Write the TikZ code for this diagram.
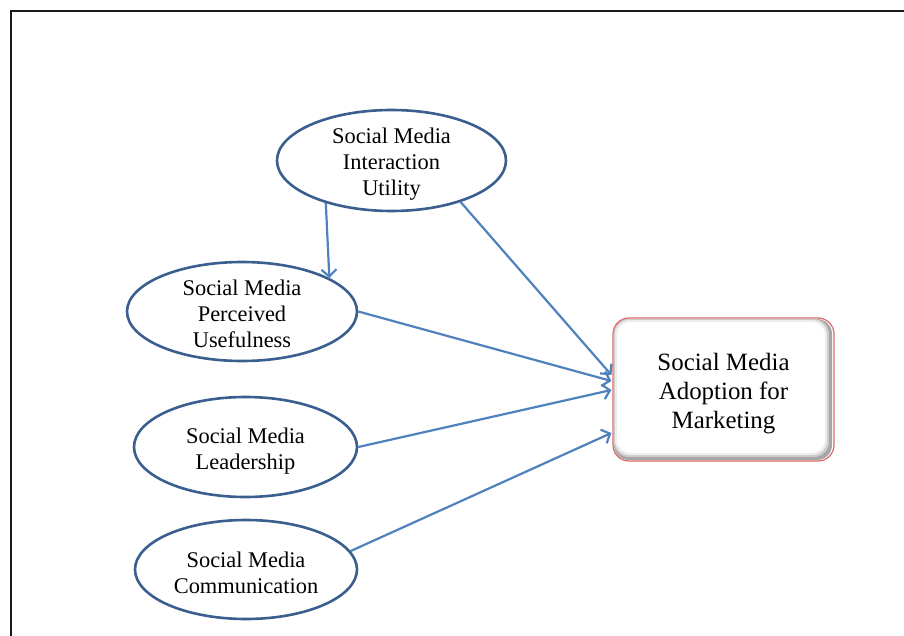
\documentclass[tikz,border=0pt]{standalone}
\usepackage{fontspec}
\setmainfont{Liberation Serif}
\usetikzlibrary{shapes.geometric,arrows.meta,calc}
\definecolor{ovalline}{HTML}{3A5F8F}
\definecolor{arrowblue}{HTML}{4F81BD}
\definecolor{boxred}{HTML}{D9696A}
% taller first line, so the text block sits a little low in its shape
\newcommand\toppad[1]{\rule{0pt}{#1}}
\begin{document}
\begin{tikzpicture}[x=1pt,y=-1pt,
  construct/.style={ellipse, draw=ovalline, line width=2.6pt, fill=white,
    inner sep=-20pt, align=center, font=\fontsize{22.4}{26}\selectfont},
  link/.style={draw=arrowblue, line width=2.2pt,
    -{Straight Barb[length=7pt,width=15pt,line width=2.2pt]}},
  target/.style={rectangle, rounded corners=16pt, draw=boxred, line width=1.2pt,
    inner sep=0pt, minimum width=221pt, minimum height=143pt,
    align=center, font=\fontsize{24.9}{29}\selectfont}]
\useasboundingbox (0,0) rectangle (904,636);
\begin{scope}
  \clip (0,0) rectangle (904,636);
  % outer frame, running past the right and bottom edges
  \draw[line width=2.6pt, black!90] (11,11) rectangle (920,660);
\end{scope}

% inner bevel of the outcome box
\fill[gray!70, rounded corners=15pt] (614,319) rectangle (832,460);
\fill[gray!40, rounded corners=15pt] (614,319) rectangle (829,457);
\fill[gray!15, rounded corners=14pt] (615,320) rectangle (827,455);
\fill[white, rounded corners=13pt] (617,322) rectangle (825,453);

% constructs
\node[construct, minimum width=229pt, minimum height=101pt] (util) at (391.5,160.5)
  {\toppad{22.5pt}Social Media\\Interaction\\Utility};
\node[construct, minimum width=230pt, minimum height=99pt] (useful) at (242,311.5)
  {\toppad{20pt}Social Media\\Perceived\\Usefulness};
\node[construct, minimum width=223pt, minimum height=100pt] (lead) at (245.5,447)
  {\toppad{24pt}Social Media\\Leadership};
\node[construct, minimum width=222pt, minimum height=99pt] (comm) at (246,569.5)
  {\toppad{21.5pt}Social Media\\Communication};

\node[target] (adopt) at (723.5,389.5)
  {\toppad{25pt}Social Media\\Adoption for\\Marketing};

% paths
\draw[link] (util.213.4) -- (useful.21.5);
\draw[link] (util.-31.7) -- ($(adopt.west)+(-1,-14.5)$);
\draw[link] (useful.east) -- ($(adopt.west)+(-1,-8.5)$);
\draw[link] (lead.east) -- ($(adopt.west)+(-1,0.5)$);
\draw[link] (comm.10) -- ($(adopt.west)+(-1,43.5)$);
\end{tikzpicture}
\end{document}
